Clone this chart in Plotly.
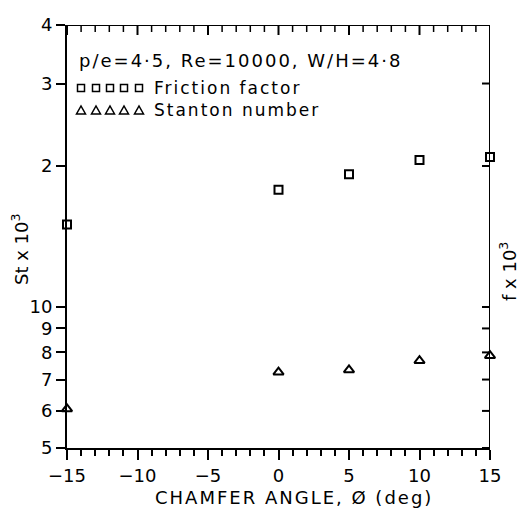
import plotly.graph_objects as go
import numpy as np

angles = [-15, 0, 5, 10, 15]
friction = [15.0, 17.8, 19.2, 20.6, 20.9]
stanton = [6.06, 7.26, 7.34, 7.68, 7.87]

y_tickvals = [5, 6, 7, 8, 9, 10, 20, 30, 40]
y_ticktext = ["5", "6", "7", "8", "9", "10", "2", "3", "4"]
x_major = [-15, -10, -5, 0, 5, 10, 15]
x_minor = [v for v in range(-15, 16) if v % 5 != 0]

FONT = "DejaVu Sans"
PLOT_W = 423
PLOT_H = 423
X_LO, X_HI = -15, 15
Y_LO, Y_HI = np.log10(5), np.log10(40)
DX = (X_HI - X_LO) / PLOT_W          # data units per pixel (x)
DY = (Y_HI - Y_LO) / PLOT_H          # decades per pixel (y)

fig = go.Figure()

# top/right frame and inward ticks, drawn through the axes' own scales
def seg_trace(xs, ys, width):
    return go.Scatter(x=xs, y=ys, mode="lines", cliponaxis=False, hoverinfo="skip",
                      showlegend=False, line=dict(color="black", width=width))

fx, fy = [], []
for v in x_major:
    fx += [v, v, None]
    fy += [10 ** Y_HI, 10 ** (Y_HI - 10 * DY), None]
for v in y_tickvals:
    fx += [X_HI, X_HI - 8 * DX, None]
    fy += [v, v, None]
fx += [X_LO, X_HI, X_HI]
fy += [10 ** Y_HI, 10 ** Y_HI, 10 ** Y_LO]
fig.add_trace(seg_trace(fx, fy, 2))

mx, my = [], []
for v in x_minor:
    mx += [v, v, None]
    my += [10 ** Y_HI, 10 ** (Y_HI - 7 * DY), None]
fig.add_trace(seg_trace(mx, my, 1.5))

fig.add_trace(go.Scatter(x=angles, y=friction, mode="markers", cliponaxis=False,
                         marker=dict(symbol="square-open", size=8, color="black",
                                     line=dict(width=2, color="black")),
                         showlegend=False))
fig.add_trace(go.Scatter(x=angles, y=stanton, mode="markers", cliponaxis=False,
                         marker=dict(symbol="triangle-up-open", size=9, color="black",
                                     line=dict(width=2, color="black")),
                         showlegend=False))

def px_x(p):
    return (p - 67) / PLOT_W

def px_y(p):
    return 1 - (p - 25) / PLOT_H

fig.update_layout(
    width=525, height=508,
    margin=dict(l=67, r=35, t=25, b=60),
    plot_bgcolor="white", paper_bgcolor="white",
    font=dict(family=FONT, size=18, color="black"),
    xaxis=dict(range=[X_LO, X_HI], tickmode="linear", tick0=-15, dtick=5,
               ticks="outside", ticklen=10, tickwidth=2, tickcolor="black",
               showline=True, linewidth=2, linecolor="black", showgrid=False,
               zeroline=False, tickfont=dict(size=18),
               minor=dict(dtick=1, ticks="outside", ticklen=6, tickwidth=1.5,
                          tickcolor="black", showgrid=False)),
    yaxis=dict(type="log", range=[Y_LO, Y_HI], tickvals=y_tickvals, ticktext=y_ticktext,
               ticks="outside", ticklen=9, tickwidth=2, tickcolor="black",
               showline=True, linewidth=2, linecolor="black", showgrid=False,
               zeroline=False, tickfont=dict(size=18)),
)

shapes = []
# legend key symbols (five open squares / five open triangles)
for cx in [81, 96, 110, 124, 139]:
    shapes.append(dict(type="rect", xref="paper", yref="paper",
                       x0=px_x(cx - 3.5), x1=px_x(cx + 3.5), y0=px_y(91.5), y1=px_y(84.5),
                       line=dict(color="black", width=1.5)))
    path = (f"M {px_x(cx - 4.5)},{px_y(114)} L {px_x(cx + 4.5)},{px_y(114)} "
            f"L {px_x(cx)},{px_y(106)} Z")
    shapes.append(dict(type="path", xref="paper", yref="paper", path=path,
                       line=dict(color="black", width=1.5)))
fig.update_layout(shapes=shapes)

LS = "letter-spacing:2px"
anns = [
    dict(x=77, y=60, text=f"<span style='{LS}'>p/e=4\u00b75, Re=10000, W/H=4\u00b78</span>", size=18),
    dict(x=152, y=88, text=f"<span style='{LS}'>Friction factor</span>", size=17),
    dict(x=152, y=110, text=f"<span style='{LS}'>Stanton number</span>", size=17),
]
for a in anns:
    fig.add_annotation(xref="paper", yref="paper", x=px_x(a["x"]), y=px_y(a["y"]),
                       xanchor="left", yanchor="middle", showarrow=False, text=a["text"],
                       font=dict(size=a["size"], family=FONT))
fig.add_annotation(xref="paper", yref="paper", x=px_x(294), y=px_y(497),
                   xanchor="center", yanchor="middle", showarrow=False,
                   text=f"<span style='{LS}'>CHAMFER ANGLE, \u00d8 (deg)</span>",
                   font=dict(size=18, family=FONT))
fig.add_annotation(xref="paper", yref="paper", x=px_x(20), y=px_y(249),
                   xanchor="center", yanchor="middle", showarrow=False, textangle=-90,
                   text="St x 10<sup>3</sup>", font=dict(size=18, family=FONT))
fig.add_annotation(xref="paper", yref="paper", x=px_x(508), y=px_y(272),
                   xanchor="center", yanchor="middle", showarrow=False, textangle=-90,
                   text="f x 10<sup>3</sup>", font=dict(size=18, family=FONT))

fig.write_html("out.html")
